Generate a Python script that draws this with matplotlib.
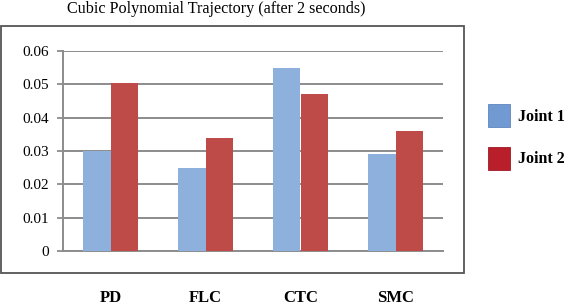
import matplotlib
matplotlib.use("Agg")
import matplotlib.pyplot as plt
import numpy as np
from matplotlib.patches import Rectangle, Patch

categories = ["PD", "FLC", "CTC", "SMC"]
joint1 = [0.030, 0.025, 0.055, 0.029]
joint2 = [0.0505, 0.034, 0.047, 0.036]
series_labels = ["Joint 1", "Joint 2"]
yticks = [0, 0.01, 0.02, 0.03, 0.04, 0.05, 0.06]
ytick_labels = ["0", "0.01", "0.02", "0.03", "0.04", "0.05", "0.06"]
title = "Cubic Polynomial Trajectory (after 2 seconds)"

W, H = 568, 306
fig = plt.figure(figsize=(W / 100, H / 100), dpi=100)
serif = "Liberation Serif"

bar_blue = "#8DB0DC"
bar_red = "#BE4B48"
leg_blue = "#7199D2"
leg_red = "#B81F2B"
grid_c = "#8C8C8C"

ax = fig.add_axes([63 / W, 1 - 251 / H, (443 - 63) / W, (251 - 51) / H])
x = np.arange(len(categories))
bw = 0.285
ax.bar(x - bw / 2, joint1, width=bw, color=bar_blue, zorder=3)
ax.bar(x + bw / 2, joint2, width=bw, color=bar_red, zorder=3)
ax.set_xlim(-0.5, len(categories) - 0.5)
ax.set_ylim(0, 0.06)
ax.set_yticks(yticks)
ax.set_yticklabels(ytick_labels, fontfamily=serif, fontsize=11)
ax.set_xticks(x)
ax.set_xticklabels(categories, fontfamily=serif, fontsize=12, fontweight="bold")
ax.tick_params(axis="x", length=0, pad=28)
ax.tick_params(axis="y", length=4, width=1.3, color=grid_c, pad=6)
ax.yaxis.grid(True, color=grid_c, linewidth=1.4, zorder=0)
for s in ["top", "right"]:
    ax.spines[s].set_visible(False)
for s in ["left", "bottom"]:
    ax.spines[s].set_color(grid_c)
    ax.spines[s].set_linewidth(1.4)

# outer chart box
fig.patches.append(Rectangle((0.5 / W, 1 - 273 / H), (464 - 0.5) / W, (273 - 26) / H,
                             transform=fig.transFigure, fill=False,
                             edgecolor="#555555", linewidth=1.3))

fig.text(216 / W, 1 - 9 / H, title, fontfamily=serif, fontsize=11.6,
         ha="center", va="center")

handles = [Patch(facecolor=leg_blue, edgecolor="#5F86BD", linewidth=0.6),
           Patch(facecolor=leg_red, edgecolor="#9E1A24", linewidth=0.6)]
fig.legend(handles, series_labels, loc="upper left",
           bbox_to_anchor=(488 / W, 1 - 104 / H), frameon=False,
           prop={"family": serif, "size": 11.5, "weight": "bold"},
           handlelength=1.38, handleheight=1.83, labelspacing=1.25,
           handletextpad=0.5, borderpad=0, borderaxespad=0)

fig.savefig("out.png", dpi=100)
